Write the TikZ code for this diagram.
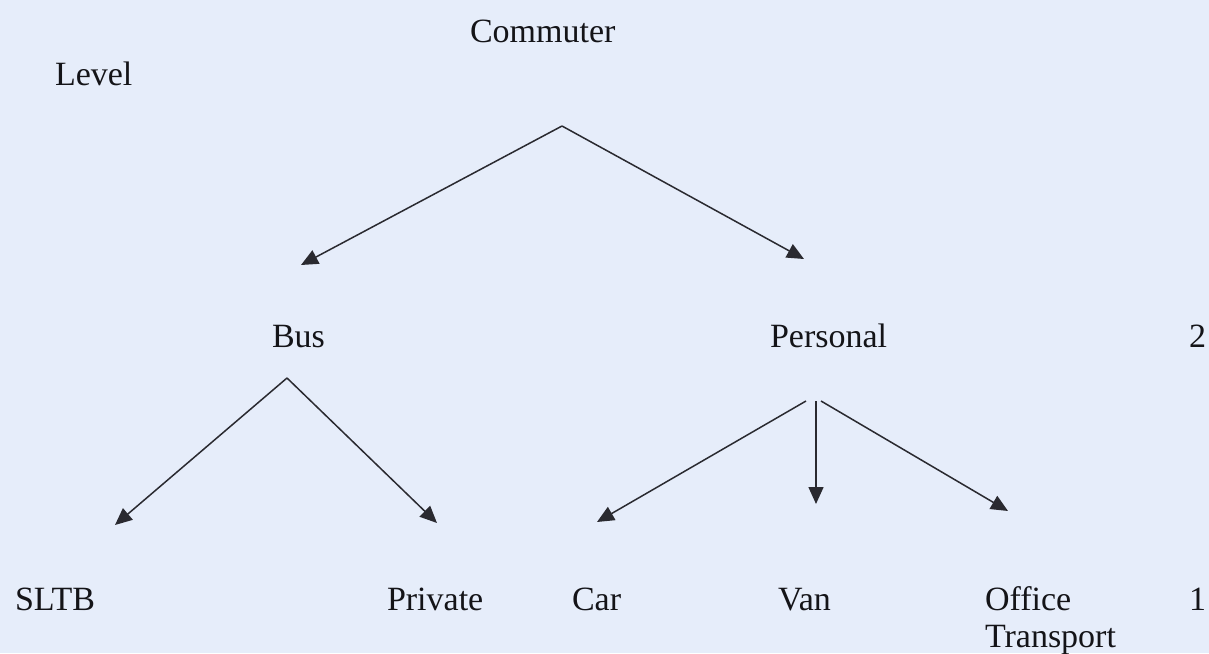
\documentclass[tikz,border=0pt]{standalone}
\usepackage{fontspec}
\setmainfont{Liberation Serif}
\usetikzlibrary{arrows.meta}
\definecolor{bgblue}{HTML}{E6EDFA}
\definecolor{inkline}{HTML}{2A2A30}
\definecolor{inktext}{HTML}{141418}
\tikzset{
  lbl/.style={inner sep=0pt, outer sep=0pt, anchor=base west, text=inktext,
    font=\fontsize{34}{37}\selectfont},
  lblr/.style={lbl, anchor=base east},
  arr/.style={draw=inkline, line width=1.5pt,
    -{Triangle[length=17pt,width=15pt]}}
}
\begin{document}
\begin{tikzpicture}[x=1pt,y=-1pt]
\fill[bgblue] (0,0) rectangle (1209,653);
\useasboundingbox (0,0) rectangle (1209,653);
% labels
\node[lbl] (commuter) at (470,42) {Commuter};
\node[lbl] (level) at (55,85) {Level};
\node[lbl] (bus) at (272,347) {Bus};
\node[lbl] (personal) at (770,347) {Personal};
\node[lblr] (two) at (1206,347) {2};
\node[lbl] (sltb) at (15,610) {SLTB};
\node[lbl] (private) at (387,610) {Private};
\node[lbl] (car) at (572,610) {Car};
\node[lbl] (van) at (778,610) {Van};
\node[lbl] (office) at (985,610) {Office};
\node[lbl] (transport) at (985,647) {Transport};
\node[lblr] (one) at (1206,610) {1};
% connector end points
\coordinate (cA) at (562,126);
\coordinate (bA) at (287,378);
\coordinate (pAl) at (806,401);
\coordinate (pAm) at (816,401);
\coordinate (pAr) at (821,401);
\coordinate (busT) at (301,265);
\coordinate (persT) at (804,259);
\coordinate (sltbT) at (115,525);
\coordinate (privT) at (437,523);
\coordinate (carT) at (597,522);
\coordinate (vanT) at (816,504);
\coordinate (offT) at (1008,511);
% connectors
\draw[arr] (cA) -- (busT);
\draw[arr] (cA) -- (persT);
\draw[arr] (bA) -- (sltbT);
\draw[arr] (bA) -- (privT);
\draw[arr] (pAl) -- (carT);
\draw[arr] (pAm) -- (vanT);
\draw[arr] (pAr) -- (offT);
\end{tikzpicture}
\end{document}
